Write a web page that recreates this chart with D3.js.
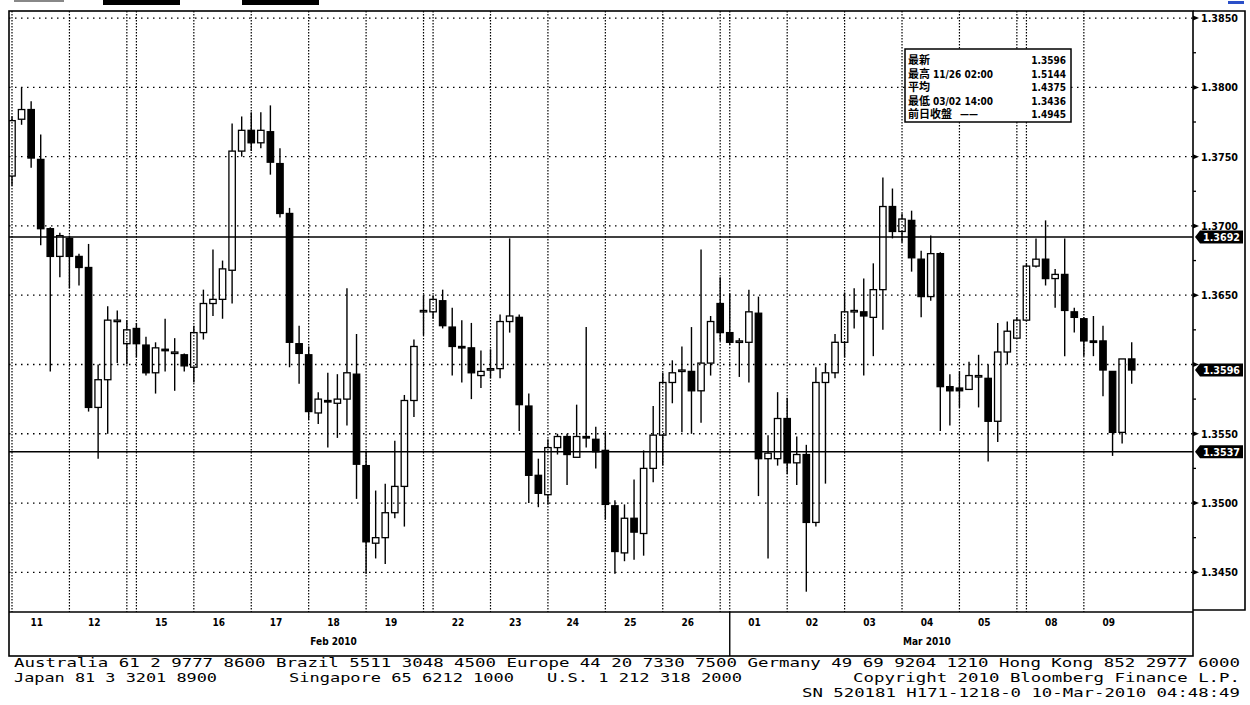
<!DOCTYPE html>
<html lang="ja">
<head>
<meta charset="UTF-8">
<title>Candle chart</title>
<style>
    body { margin: 0; background: #fff; }
    svg { display: block; }
    .ax { font-family: "DejaVu Sans Condensed", "DejaVu Sans", sans-serif; font-weight: bold; }
    .foot { font-family: "DejaVu Sans Mono", monospace; }
    .cjk { font-family: "Noto Sans CJK JP", sans-serif; }
</style>
</head>
<body>
<div id="chart"></div>
<script src="https://d3js.org/d3.v7.min.js"></script>
<script>
// 4-hour candles, 11 Feb - 9 Mar 2010 (index = slot on the time axis)
const opens = [1.3736,1.3777,1.3784,1.3748,1.3698,1.3678,1.3691,1.3678,1.3670,1.3569,1.3589,1.3631,1.3615,1.3626,1.3614,1.3594,1.3611,1.3608,1.3607,1.3598,
    1.3623,1.3644,1.3647,1.3668,1.3754,1.3769,1.3760,1.3768,1.3745,1.3709,1.3615,1.3607,1.3565,1.3574,1.3572,1.3575,1.3593,1.3527,1.3471,1.3475,
    1.3493,1.3512,1.3574,1.3638,1.3638,1.3646,1.3627,1.3613,1.3612,1.3592,1.3596,1.3597,1.3631,1.3634,1.3570,1.3520,1.3506,1.3540,1.3548,1.3533,
    1.3548,1.3546,1.3538,1.3498,1.3464,1.3489,1.3478,1.3525,1.3549,1.3587,1.3595,1.3595,1.3581,1.3601,1.3644,1.3623,1.3616,1.3616,1.3637,1.3532,
    1.3532,1.3561,1.3529,1.3535,1.3486,1.3587,1.3594,1.3616,1.3638,1.3638,1.3634,1.3654,1.3714,1.3696,1.3704,1.3676,1.3649,1.3680,1.3584,1.3583,
    1.3582,1.3591,1.3590,1.3559,1.3609,1.3619,1.3632,1.3671,1.3676,1.3662,1.3665,1.3638,1.3633,1.3617,1.3617,1.3595,1.3551,1.3604];
const highs = [1.3779,1.3800,1.3790,1.3766,1.3699,1.3695,1.3693,1.3680,1.3687,1.3600,1.3642,1.3639,1.3632,1.3630,1.3620,1.3616,1.3633,1.3619,1.3608,1.3628,
    1.3654,1.3683,1.3675,1.3774,1.3779,1.3782,1.3782,1.3787,1.3756,1.3713,1.3628,1.3613,1.3580,1.3594,1.3593,1.3655,1.3622,1.3537,1.3509,1.3514,
    1.3545,1.3578,1.3618,1.3650,1.3650,1.3654,1.3641,1.3632,1.3630,1.3610,1.3611,1.3636,1.3691,1.3636,1.3579,1.3532,1.3546,1.3550,1.3550,1.3571,
    1.3627,1.3555,1.3551,1.3502,1.3499,1.3517,1.3538,1.3570,1.3594,1.3603,1.3613,1.3627,1.3683,1.3635,1.3663,1.3651,1.3619,1.3654,1.3649,1.3549,
    1.3580,1.3576,1.3548,1.3542,1.3598,1.3601,1.3622,1.3652,1.3655,1.3662,1.3673,1.3735,1.3727,1.3709,1.3711,1.3682,1.3693,1.3681,1.3593,1.3595,
    1.3602,1.3607,1.3600,1.3630,1.3631,1.3634,1.3673,1.3691,1.3704,1.3669,1.3691,1.3641,1.3634,1.3635,1.3628,1.3595,1.3604,1.3616];
const lows = [1.3729,1.3773,1.3742,1.3686,1.3595,1.3663,1.3655,1.3657,1.3566,1.3532,1.3550,1.3601,1.3600,1.3605,1.3592,1.3579,1.3595,1.3581,1.3595,1.3587,
    1.3618,1.3635,1.3633,1.3644,1.3750,1.3754,1.3756,1.3737,1.3706,1.3598,1.3586,1.3560,1.3557,1.3540,1.3547,1.3556,1.3503,1.3449,1.3460,1.3456,
    1.3489,1.3483,1.3562,1.3621,1.3633,1.3626,1.3592,1.3587,1.3575,1.3583,1.3590,1.3590,1.3623,1.3552,1.3500,1.3497,1.3499,1.3535,1.3513,1.3533,
    1.3540,1.3525,1.3488,1.3449,1.3458,1.3459,1.3462,1.3515,1.3527,1.3572,1.3551,1.3550,1.3558,1.3592,1.3617,1.3614,1.3591,1.3587,1.3505,1.3460,
    1.3527,1.3521,1.3513,1.3436,1.3483,1.3514,1.3590,1.3605,1.3626,1.3592,1.3606,1.3625,1.3691,1.3688,1.3667,1.3634,1.3646,1.3552,1.3556,1.3569,
    1.3582,1.3569,1.3530,1.3544,1.3600,1.3619,1.3631,1.3670,1.3657,1.3641,1.3606,1.3623,1.3606,1.3606,1.3577,1.3534,1.3543,1.3586];
const closes = [1.3776,1.3784,1.3749,1.3698,1.3678,1.3693,1.3678,1.3670,1.3569,1.3589,1.3632,1.3632,1.3625,1.3615,1.3594,1.3612,1.3610,1.3609,1.3599,1.3623,
    1.3644,1.3647,1.3669,1.3754,1.3769,1.3760,1.3769,1.3746,1.3709,1.3616,1.3608,1.3566,1.3575,1.3573,1.3575,1.3594,1.3528,1.3472,1.3475,1.3493,
    1.3512,1.3574,1.3613,1.3639,1.3647,1.3628,1.3613,1.3612,1.3594,1.3595,1.3597,1.3631,1.3635,1.3571,1.3520,1.3507,1.3540,1.3548,1.3535,1.3548,
    1.3547,1.3537,1.3499,1.3465,1.3489,1.3479,1.3525,1.3549,1.3587,1.3594,1.3596,1.3581,1.3601,1.3631,1.3623,1.3616,1.3617,1.3638,1.3532,1.3536,
    1.3561,1.3529,1.3535,1.3486,1.3587,1.3594,1.3616,1.3638,1.3639,1.3635,1.3654,1.3714,1.3696,1.3705,1.3677,1.3649,1.3680,1.3584,1.3581,1.3581,
    1.3592,1.3592,1.3559,1.3609,1.3624,1.3632,1.3671,1.3676,1.3662,1.3665,1.3639,1.3634,1.3617,1.3616,1.3596,1.3551,1.3604,1.3596];

// axis labels
const dayLabels = ["11","12","15","16","17","18","19","22","23","24","25","26","01","02","03","04","05","08","09"];
const dayStarts = [0,6,13,19,25,31,37,44,50,56,62,68,75,81,87,93,99,106,112];
const gridSlots = [0,6,12,13,19,25,31,37,43,44,50,56,62,68,74,75,81,87,93,99,105,106,112];
const months = ["Feb 2010", "Mar 2010"];
const monthAt = [33.6, 95.6];
const monthSplit = 75;
const yTicks = [1.3450,1.3500,1.3550,1.3600,1.3650,1.3700,1.3750,1.3800,1.3850];
const levels = [1.3692, 1.3537];
const tags = [1.3692, 1.3596, 1.3537];

// legend box
const legNames = ["最新", "最高", "平均", "最低", "前日收盤"];
const legDates = ["", "11/26 02:00", "", "03/02 14:00", "——"];
const legValues = ["1.3596", "1.5144", "1.4375", "1.3436", "1.4945"];

// footer lines: [text, x, y, width, anchor]
const footer = [
    ["Australia 61 2 9777 8600 Brazil 5511 3048 4500 Europe 44 20 7330 7500 Germany 49 69 9204 1210 Hong Kong 852 2977 6000", 14, 667, 1226, "start"],
    ["Japan 81 3 3201 8900", 14, 682, 203, "start"],
    ["Singapore 65 6212 1000", 289, 682, 225, "start"],
    ["U.S. 1 212 318 2000", 547, 682, 195, "start"],
    ["Copyright 2010 Bloomberg Finance L.P.", 853, 682, 387, "start"],
    ["SN 520181 H171-1218-0 10-Mar-2010 04:48:49", 802, 697, 438, "start"]
];

const W = 1250, H = 705;
const L = 9, T = 11, R = 1193, B = 612, OUT = 1245;

const svg = d3.select("#chart").append("svg")
    .attr("width", W).attr("height", H);

const x = d3.scaleLinear().domain([0, 117]).range([12, 1131.7]);
const y = d3.scaleLinear().domain([1.3450, 1.3850]).range([572.3, 18.1]);

const candles = opens.map((o, i) => ({ i, o, h: highs[i], l: lows[i], c: closes[i] }));

// header fragments (cut off at the top edge in the original)
svg.append("rect").attr("x", 103).attr("y", 0).attr("width", 77).attr("height", 5).attr("fill", "#000");
svg.append("rect").attr("x", 242).attr("y", 0).attr("width", 77).attr("height", 5).attr("fill", "#000");
svg.append("rect").attr("x", 1228).attr("y", 1).attr("width", 16).attr("height", 3).attr("fill", "#2a4fc8");
svg.append("rect").attr("x", 14).attr("y", 0).attr("width", 50).attr("height", 2).attr("fill", "#888");

svg.append("defs").append("clipPath").attr("id", "plot")
    .append("rect").attr("x", L).attr("y", T).attr("width", R - L).attr("height", B - T);

const plot = svg.append("g").attr("clip-path", "url(#plot)");

// candles
const bw = 6.4;
const cg = plot.selectAll(".cdl").data(candles).enter().append("g").attr("class", "cdl");
cg.append("line")
    .attr("x1", d => x(d.i)).attr("x2", d => x(d.i))
    .attr("y1", d => y(d.h)).attr("y2", d => y(d.l))
    .attr("stroke", "#000").attr("stroke-width", 1.4);
cg.append("rect")
    .attr("x", d => x(d.i) - bw / 2)
    .attr("width", bw)
    .attr("y", d => y(Math.max(d.o, d.c)))
    .attr("height", d => Math.max(1.5, Math.abs(y(d.o) - y(d.c))))
    .attr("fill", d => d.c >= d.o ? "#fff" : "#000")
    .attr("stroke", "#000").attr("stroke-width", 1.3);

// dotted grid on top
plot.selectAll(".hg").data(yTicks).enter().append("line")
    .attr("x1", L).attr("x2", R)
    .attr("y1", d => y(d)).attr("y2", d => y(d))
    .attr("stroke", "#000").attr("stroke-width", 1.3)
    .attr("stroke-dasharray", "1.5,4.5");
plot.selectAll(".vg").data(gridSlots).enter().append("line")
    .attr("x1", d => x(d)).attr("x2", d => x(d))
    .attr("y1", T).attr("y2", B)
    .attr("stroke", "#000").attr("stroke-width", 1.2)
    .attr("stroke-dasharray", "1.5,1.5");

// support / resistance lines
plot.selectAll(".lvl").data(levels).enter().append("line")
    .attr("x1", L).attr("x2", R)
    .attr("y1", d => y(d)).attr("y2", d => y(d))
    .attr("stroke", "#000").attr("stroke-width", 1.3);

// legend box
const lg = svg.append("g");
lg.append("rect").attr("x", 905).attr("y", 49).attr("width", 166).attr("height", 73)
    .attr("fill", "#fff").attr("stroke", "#000").attr("stroke-width", 1.5);
legNames.forEach((n, k) => {
    const yy = 60 + k * 13.5;
    lg.append("text").attr("class", "cjk").attr("x", 908).attr("y", yy + 4)
        .attr("font-size", 11).attr("font-weight", "bold").text(n);
    lg.append("text").attr("class", "ax").attr("x", k === 4 ? 960 : 933).attr("y", yy + 4)
        .attr("font-size", 10).text(legDates[k]);
    lg.append("text").attr("class", "ax").attr("x", 1066).attr("y", yy + 4)
        .attr("font-size", 10).attr("text-anchor", "end").text(legValues[k]);
});

// frame
svg.append("rect").attr("x", L).attr("y", T).attr("width", R - L).attr("height", 656 - T)
    .attr("fill", "none").attr("stroke", "#000").attr("stroke-width", 1.6);
svg.append("line").attr("x1", L).attr("x2", R).attr("y1", B).attr("y2", B)
    .attr("stroke", "#000").attr("stroke-width", 1.6);
svg.append("path").attr("d", `M${R},${T}H${OUT}V610H${R}`)
    .attr("fill", "none").attr("stroke", "#000").attr("stroke-width", 1.6);
svg.append("line").attr("x1", x(monthSplit)).attr("x2", x(monthSplit)).attr("y1", B).attr("y2", 656)
    .attr("stroke", "#000").attr("stroke-width", 1.4);

// right axis
const ya = svg.append("g");
ya.selectAll(".mt").data(yTicks.slice(0, -1)).enter().append("line")
    .attr("x1", R).attr("x2", R + 3)
    .attr("y1", d => y(d + 0.0025)).attr("y2", d => y(d + 0.0025))
    .attr("stroke", "#000").attr("stroke-width", 1.3);
ya.selectAll(".tk").data(yTicks).enter().append("path")
    .attr("d", d => `M${R},${y(d) - 2.5}L${R + 6},${y(d)}L${R},${y(d) + 2.5}Z`)
    .attr("fill", "#000");
// labels hidden behind a price tag are left out (the tag covers them in the original)
ya.selectAll(".tl").data(yTicks.filter(v => !tags.some(t => Math.abs(y(t) - y(v)) < 8))).enter().append("text")
    .attr("class", "ax").attr("x", 1201).attr("y", d => y(d) + 4)
    .attr("font-size", 10.5).attr("textLength", 37).attr("lengthAdjust", "spacingAndGlyphs")
    .text(d => d.toFixed(4));

// price tags
const tg = ya.selectAll(".tag").data(tags).enter().append("g");
tg.append("path")
    .attr("d", d => `M${R + 2},${y(d)}L${R + 7},${y(d) - 6.5}H${OUT - 2}V${y(d) + 6.5}H${R + 7}Z`)
    .attr("fill", "#000");
tg.append("text").attr("class", "ax").attr("x", 1203).attr("y", d => y(d) + 4)
    .attr("font-size", 10.5).attr("fill", "#fff")
    .attr("textLength", 37).attr("lengthAdjust", "spacingAndGlyphs")
    .text(d => d.toFixed(4));

// x axis labels
const xa = svg.append("g");
xa.selectAll(".dl").data(dayLabels).enter().append("text")
    .attr("class", "ax").attr("x", (d, k) => x(dayStarts[k] + 2.6)).attr("y", 626)
    .attr("font-size", 10).attr("text-anchor", "middle").text(d => d);
xa.selectAll(".ml").data(months).enter().append("text")
    .attr("class", "ax").attr("x", (d, k) => x(monthAt[k])).attr("y", 645)
    .attr("font-size", 10).attr("text-anchor", "middle").text(d => d);

// footer
svg.append("g").attr("class", "foot").attr("font-size", 13).attr("fill", "#000")
    .selectAll("text").data(footer).enter().append("text")
    .attr("x", d => d[1]).attr("y", d => d[2])
    .attr("textLength", d => d[3]).attr("lengthAdjust", "spacingAndGlyphs")
    .text(d => d[0]);
</script>
</body>
</html>
